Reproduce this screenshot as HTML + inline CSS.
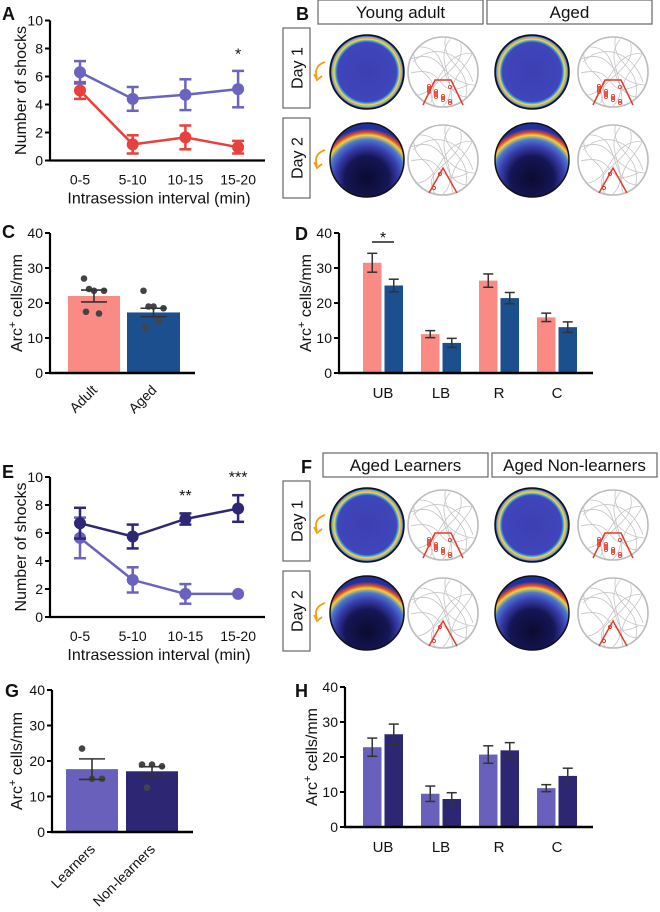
<!DOCTYPE html>
<html><head><meta charset="utf-8"><style>
body{margin:0;background:#fff;}
svg{display:block;font-family:"Liberation Sans",Arial,sans-serif;}
</style></head><body>
<svg id="fig" width="660" height="912" viewBox="0 0 660 912">
<defs>
<radialGradient id="heat1" cx="50%" cy="50%" r="50%">
<stop offset="0" stop-color="#3c3fb0"/><stop offset="0.8" stop-color="#3f46bb"/><stop offset="0.85" stop-color="#4fa8e0"/><stop offset="0.89" stop-color="#e9e24a"/><stop offset="0.92" stop-color="#f0a030"/><stop offset="0.95" stop-color="#5ec0e0"/><stop offset="0.97" stop-color="#3a48c0"/><stop offset="1" stop-color="#1a1a40"/>
</radialGradient>
<radialGradient id="heat2" cx="50%" cy="75%" r="75%">
<stop offset="0" stop-color="#0b0b30"/><stop offset="0.4" stop-color="#151656"/><stop offset="0.58" stop-color="#3a3fae"/><stop offset="0.7" stop-color="#4a78d0"/><stop offset="0.78" stop-color="#e8d445"/><stop offset="0.83" stop-color="#e44a2a"/><stop offset="0.9" stop-color="#2030a0"/><stop offset="1" stop-color="#2030a0"/>
</radialGradient>
</defs>
<g id="static"></g>
</svg>
<script>
// ---------- data ----------
const shockCats = ["0-5","5-10","10-15","15-20"];
const aAgedVals = [6.3,4.4,4.7,5.1];
const aAgedErr = [0.8,0.85,1.1,1.3];
const aYoungVals = [5.0,1.15,1.65,0.95];
const aYoungErr = [0.6,0.65,0.85,0.45];
const eNonVals = [6.7,5.75,7.0,7.75];
const eNonErr = [1.1,0.85,0.4,0.95];
const eLearnVals = [5.65,2.65,1.65,1.65];
const eLearnErr = [1.45,0.9,0.7,0];
const shockTicks = [0,2,4,6,8,10];
const arcTicks = [0,10,20,30,40];
const cCats = ["Adult","Aged"];
const cVals = [22,17.3];
const cErr = [1.7,1.2];
const cDotsAdult = [27,23.5,23.5,24,17,17.5];
const cDotsAged = [23.5,19,18.5,19,15,13];
const regionCats = ["UB","LB","R","C"];
const dAdultVals = [31.5,11.1,26.4,15.9];
const dAdultErr = [2.7,1.0,1.9,1.2];
const dAgedVals = [25,8.6,21.4,13.1];
const dAgedErr = [1.8,1.3,1.6,1.5];
const gCats = ["Learners","Non-learners"];
const gVals = [17.7,17.1];
const gErr = [2.9,1.3];
const gDotsL = [23.5,15,15];
const gDotsN = [19,19,18.5,12.5];
const hLearnVals = [22.8,9.5,20.7,11.1];
const hLearnErr = [2.6,2.2,2.5,1.0];
const hNonVals = [26.5,8.0,21.9,14.6];
const hNonErr = [2.9,1.8,2.2,2.2];

const NS="http://www.w3.org/2000/svg";
const svg=document.getElementById('fig');
function mk(tag,attrs,parent){const e=document.createElementNS(NS,tag);for(const k in attrs)e.setAttribute(k,attrs[k]);(parent||svg).appendChild(e);return e;}
function txt(x,y,s,size,opts,parent){opts=opts||{};const t=mk('text',{x:x,y:y,'font-size':size,'text-anchor':opts.anchor||'middle',fill:'#111'},parent);if(opts.bold)t.setAttribute('font-weight','bold');if(opts.rot)t.setAttribute('transform','rotate('+opts.rot+' '+x+' '+y+')');t.textContent=s;return t;}
function lbl(x,y,s){const t=txt(x,y,s,18,{anchor:'start',bold:true});

}

function yAxis(g,x,y0,y1,ticks,maxV,title,titleX){
  mk('line',{x1:x,y1:y0+1,x2:x,y2:y1,stroke:'#000','stroke-width':2.2},g);
  ticks.forEach(v=>{const y=y0-(y0-y1)*v/maxV;
    mk('line',{x1:x-5,y1:y,x2:x,y2:y,stroke:'#000','stroke-width':2},g);
    const t=txt(x-7,y+5,String(v),14,{anchor:'end'},g);
    
    });
  const cy=(y0+y1)/2;
  const tt=txt(titleX,cy,title,16,{rot:-90},g);
  
  
  return tt;
}
function arcTitle(g,x,cy){
  const t=mk('text',{x:x,y:cy,'font-size':16,'text-anchor':'middle',fill:'#111',transform:'rotate(-90 '+x+' '+cy+')'},g);
  
  
  t.appendChild(document.createTextNode('Arc'));
  const s=mk('tspan',{dy:-6,'font-size':11},t);s.textContent='+';
  const r=mk('tspan',{dy:6},t);r.textContent=' cells/mm';
}

// ---------- line chart ----------
function lineChart(name,y0,series,stars){
  const g=mk('g',{});
  
  
  const ax=50,x1=265,y10=y0-140;
  const yS=v=>y0-14*v;
  const xS=i=>80+i*52.7;
  yAxis(g,ax,y0,y10,shockTicks,10,'Number of shocks',26);
  mk('line',{x1:ax-1,y1:y0,x2:x1,y2:y0,stroke:'#000','stroke-width':2.2},g);
  shockCats.forEach((c,i)=>{const t=txt(xS(i),y0+24,c,14,{},g);
    
    });
  const xt=txt(159,y0+43,'Intrasession interval (min)',16,{},g);
  
  
  series.forEach(s=>{
    const sg=mk('g',{},g);
    
    
    mk('polyline',{points:s.vals.map((v,i)=>xS(i)+','+yS(v)).join(' '),fill:'none',stroke:s.col,'stroke-width':2.5},sg);
    s.vals.forEach((v,i)=>{const x=xS(i),e=s.err[i];
      if(e>0){mk('line',{x1:x,y1:yS(v-e),x2:x,y2:yS(v+e),stroke:s.col,'stroke-width':2.5},sg);
      mk('line',{x1:x-6,y1:yS(v+e),x2:x+6,y2:yS(v+e),stroke:s.col,'stroke-width':2.5},sg);
      mk('line',{x1:x-6,y1:yS(v-e),x2:x+6,y2:yS(v-e),stroke:s.col,'stroke-width':2.5},sg);}
      const c=mk('circle',{cx:x,cy:yS(v),r:6,fill:s.col},sg);
      
      });
  });
  stars.forEach(s=>{const t=txt(xS(s.i),yS(s.v),s.t,16,{},g);
    
    });
}
lbl(2,20,'A');
lineChart('chart-a-shocks',160.5,[
 {name:'series-young',vals:aYoungVals,err:aYoungErr,col:'#e8403c'},
 {name:'series-aged',vals:aAgedVals,err:aAgedErr,col:'#6a63c0'}],[{i:3,v:7.2,t:'*'}]);
lbl(2,478,'E');
lineChart('chart-e-shocks',617,[
 {name:'series-learners',vals:eLearnVals,err:eLearnErr,col:'#6b62c0'},
 {name:'series-non-learners',vals:eNonVals,err:eNonErr,col:'#2e2775'}],[{i:2,v:8.3,t:'**'},{i:3,v:9.6,t:'***'}]);

// ---------- dot bar chart ----------
function dotBar(name,ax,y0,y40,cats,vals,err,dots,cols,xEnd,bars){
  const g=mk('g',{});
  
  
  const yS=v=>y0-(y0-y40)*v/40;
  bars.forEach((b,i)=>{
    const r=mk('rect',{x:b[0],y:yS(vals[i]),width:b[1]-b[0],height:y0-yS(vals[i]),fill:cols[i]},g);
    
    
    const cx=(b[0]+b[1])/2;
    dots[i].forEach((d,j)=>{const off=[-10,0,10,-5,5,-8][j%6];
      const c=mk('circle',{cx:cx+off,cy:yS(d),r:3.3,fill:'#444'},g);
      
      });
    mk('line',{x1:cx,y1:yS(vals[i]-err[i]),x2:cx,y2:yS(vals[i]+err[i]),stroke:'#333','stroke-width':1.6},g);
    mk('line',{x1:cx-13,y1:yS(vals[i]+err[i]),x2:cx+13,y2:yS(vals[i]+err[i]),stroke:'#333','stroke-width':1.6},g);
    mk('line',{x1:cx-13,y1:yS(vals[i]-err[i]),x2:cx+13,y2:yS(vals[i]-err[i]),stroke:'#333','stroke-width':1.6},g);
    const t=txt(cx+4,y0+18,cats[i],14,{anchor:'end',rot:-45},g);
    
    
  });
  yAxis(g,ax,y0,y40,arcTicks,40,'',0);
  arcTitle(g,22,(y0+y40)/2);
  mk('line',{x1:ax-1,y1:y0,x2:xEnd,y2:y0,stroke:'#000','stroke-width':2.5},g);
}
lbl(2,238,'C');
dotBar('chart-c-arc',50,373,233,cCats,cVals,cErr,[cDotsAdult,cDotsAged],['#fa8a84','#1b4f8d'],195,[[68,120],[127,180]]);
lbl(5,697,'G');
dotBar('chart-g-arc',52,832,690,gCats,gVals,gErr,[gDotsL,gDotsN],['#6860bb','#2d2672'],193,[[66,118],[126,178]]);

// ---------- grouped bars ----------
function grouped(name,ax,y0,y40,a,ae,b,be,ca,cb,star){
  const g=mk('g',{});
  
  
  const yS=v=>y0-(y0-y40)*v/40;
  const gx=i=>363+i*58;
  regionCats.forEach((c,i)=>{
    [[a,ae,ca,0],[b,be,cb,21.5]].forEach(s=>{
      const x=gx(i)+s[3],w=18.5,v=s[0][i],e=s[1][i];
      const r=mk('rect',{x:x,y:yS(v),width:w,height:y0-yS(v),fill:s[2]},g);
      
      
      const cx=x+w/2;
      mk('line',{x1:cx,y1:yS(v-e),x2:cx,y2:yS(v+e),stroke:'#333','stroke-width':1.5},g);
      mk('line',{x1:cx-5,y1:yS(v+e),x2:cx+5,y2:yS(v+e),stroke:'#333','stroke-width':1.5},g);
      mk('line',{x1:cx-5,y1:yS(v-e),x2:cx+5,y2:yS(v-e),stroke:'#333','stroke-width':1.5},g);
    });
    const t=txt(gx(i)+20,y0+25,c,15,{},g);
    
    
  });
  yAxis(g,ax,y0,y40,arcTicks,40,'',0);
  arcTitle(g,ax-28,(y0+y40)/2);
  mk('line',{x1:ax-1,y1:y0,x2:593,y2:y0,stroke:'#000','stroke-width':2.5},g);
  if(star){mk('line',{x1:372,y1:y40+9,x2:394,y2:y40+9,stroke:'#222','stroke-width':1.5},g);
    const t=txt(383,y40+10,'*',16,{},g);
    
    }
}
lbl(295,240,'D');
grouped('chart-d-arc',339,373,233,dAdultVals,dAdultErr,dAgedVals,dAgedErr,'#fa8a84','#1b4f8d',true);
lbl(295,697,'H');
grouped('chart-h-arc',345,827,687,hLearnVals,hLearnErr,hNonVals,hNonErr,'#6860bb','#2d2672',false);

// ---------- heatmap panels ----------
function boxText(x,y,w,h,s,rot,name){
  const g=mk('g',{});
  
  
  mk('rect',{x:x,y:y,width:w,height:h,fill:'#fff',stroke:'#666','stroke-width':1.2},g);
  if(rot) txt(x+w/2+6,y+h/2,s,16,{rot:-90},g);
  else txt(x+w/2,y+h/2+6,s,17,{},g);
}
function arrow(x,y){const p=mk('path',{d:'M'+(x+8)+' '+(y-10)+' Q'+(x-4)+' '+(y-6)+' '+x+' '+(y+6),fill:'none',stroke:'#f5a012','stroke-width':1.8});
  
  
  mk('path',{d:'M'+(x-3)+' '+(y+2)+' L'+x+' '+(y+8)+' L'+(x+5)+' '+(y+4),fill:'none',stroke:'#f5a012','stroke-width':1.8});}
function heat(cx,cy,day){const g=mk('g',{});
  
  
  mk('circle',{cx:cx,cy:cy,r:37,fill:day===1?'url(#heat1)':'url(#heat2)',stroke:'#111','stroke-width':1.5},g);}
const tracePaths=['M-30,-10 C-10,-30 20,-20 30,10','M-25,20 C0,-10 10,30 28,-5','M-10,-33 C-20,0 20,5 15,33','M-33,5 C-5,15 5,-25 32,-12','M-20,-28 C10,-5 -15,20 20,28','M5,-34 C25,-10 -25,0 -15,30','M-34,-3 C-10,-20 10,25 34,3','M-28,-18 C0,0 0,-30 25,-25','M-26,24 C-5,5 15,20 30,18','M18,-30 C0,-5 30,5 8,34'];
function trace(cx,cy,day){const g=mk('g',{transform:'translate('+cx+','+cy+')'});
  
  
  mk('circle',{cx:0,cy:0,r:35,fill:'none',stroke:'#bbb','stroke-width':1.6},g);
  tracePaths.forEach((d,i)=>{mk('path',{d:d,fill:'none',stroke:'#c4c4c4','stroke-width':0.8,transform:'rotate('+(i*37)+')'},g);});
  if(day===1){mk('path',{d:'M-20,33 L-8,8 L8,8 L20,33',fill:'none',stroke:'#e53a2a','stroke-width':1.5},g);
    for(let i=0;i<14;i++){mk('circle',{cx:-14+(i*7)%28,cy:14+(i*5)%18,r:1.6,fill:'none',stroke:'#e53a2a','stroke-width':0.8},g);}}
  else{mk('path',{d:'M-14,33 L0,8 L14,33',fill:'none',stroke:'#e53a2a','stroke-width':1.5},g);
    mk('circle',{cx:-3,cy:14,r:1.6,fill:'none',stroke:'#e53a2a'},g);mk('circle',{cx:-9,cy:28,r:1.6,fill:'none',stroke:'#e53a2a'},g);}
}
function panelB(y,t1,t2,letter,bx){
  lbl(bx,y+20,letter);
  boxText(bx+22,y,165,24,t1,false,'group-title-1');
  boxText(bx+191,y,165,24,t2,false,'group-title-2');
  boxText(283,y+28,27,80,'Day 1',true,'day1-label');
  boxText(283,y+118,27,80,'Day 2',true,'day2-label');
  [[y+72,1],[y+160,2]].forEach(r=>{
    arrow(317,r[0]);
    heat(367,r[0],r[1]);trace(443,r[0],r[1]);
    heat(532,r[0],r[1]);trace(613,r[0],r[1]);
  });
}
panelB(0,'Young adult','Aged','B',296);
panelB(453,'Aged Learners','Aged Non-learners','F',301);
</script>
</body></html>
